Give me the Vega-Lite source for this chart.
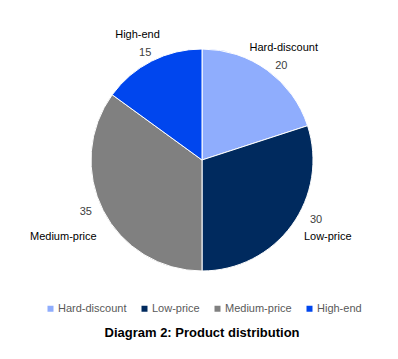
{
  "$schema": "https://vega.github.io/schema/vega-lite/v6.json",
  "width": 392,
  "height": 320,
  "autosize": {"type": "none"},
  "padding": {"left": 6, "top": 0, "right": 0, "bottom": 39},
  "background": "white",
  "config": {"view": {"stroke": null}, "font": "Liberation Sans"},
  "title": {
    "text": "Diagram 2: Product distribution",
    "orient": "bottom",
    "anchor": "middle",
    "offset": 7,
    "fontSize": 13,
    "fontWeight": "bold",
    "color": "#000000",
    "font": "Liberation Sans"
  },
  "data": {
    "values": [
      {"segment": "Hard-discount", "share": 20, "rank": 1},
      {"segment": "Low-price", "share": 30, "rank": 2},
      {"segment": "Medium-price", "share": 35, "rank": 3},
      {"segment": "High-end", "share": 15, "rank": 4}
    ]
  },
  "encoding": {
    "theta": {"field": "share", "type": "quantitative", "stack": true},
    "order": {"field": "rank", "type": "quantitative"}
  },
  "layer": [
    {
      "mark": {"type": "arc", "outerRadius": 111, "stroke": "white", "strokeWidth": 1},
      "encoding": {
        "color": {
          "field": "segment",
          "type": "nominal",
          "scale": {
            "domain": ["Hard-discount", "Low-price", "Medium-price", "High-end"],
            "range": ["#8FADFD", "#002A5E", "#808080", "#0046EE"]
          },
          "legend": {
            "orient": "none",
            "direction": "horizontal",
            "legendX": 39,
            "legendY": 303,
            "title": null,
            "symbolType": "square",
            "symbolSize": 36,
            "symbolStrokeWidth": 0,
            "labelFontSize": 11,
            "labelColor": "#595959",
            "labelFont": "Liberation Sans",
            "labelOffset": 2,
            "columnPadding": 12
          }
        }
      }
    },
    {
      "mark": {"type": "text", "radius": 123, "dx": 7, "dy": 6, "fontSize": 11, "color": "#404040"},
      "encoding": {"text": {"condition": {"test": "datum.segment === 'Hard-discount'", "field": "share", "type": "quantitative"}, "value": ""}}
    },
    {
      "mark": {"type": "text", "radius": 125, "dx": 13, "dy": -13, "fontSize": 11, "color": "#404040"},
      "encoding": {"text": {"condition": {"test": "datum.segment === 'Low-price'", "field": "share", "type": "quantitative"}, "value": ""}}
    },
    {
      "mark": {"type": "text", "radius": 127, "dx": -3, "dy": -6, "fontSize": 11, "color": "#404040"},
      "encoding": {"text": {"condition": {"test": "datum.segment === 'Medium-price'", "field": "share", "type": "quantitative"}, "value": ""}}
    },
    {
      "mark": {"type": "text", "radius": 123, "dx": -1, "dy": 3, "fontSize": 11, "color": "#404040"},
      "encoding": {"text": {"condition": {"test": "datum.segment === 'High-end'", "field": "share", "type": "quantitative"}, "value": ""}}
    },
    {
      "mark": {"type": "text", "radius": 139, "fontSize": 11, "color": "#000000"},
      "encoding": {"text": {"condition": {"test": "datum.segment === 'Hard-discount'", "field": "segment", "type": "nominal"}, "value": ""}}
    },
    {
      "mark": {"type": "text", "radius": 148, "dx": 6, "dy": -10, "fontSize": 11, "color": "#000000"},
      "encoding": {"text": {"condition": {"test": "datum.segment === 'Low-price'", "field": "segment", "type": "nominal"}, "value": ""}}
    },
    {
      "mark": {"type": "text", "radius": 159, "dx": 3, "dy": 5, "fontSize": 11, "color": "#000000"},
      "encoding": {"text": {"condition": {"test": "datum.segment === 'Medium-price'", "field": "segment", "type": "nominal"}, "value": ""}}
    },
    {
      "mark": {"type": "text", "radius": 142, "dy": 2, "fontSize": 11, "color": "#000000"},
      "encoding": {"text": {"condition": {"test": "datum.segment === 'High-end'", "field": "segment", "type": "nominal"}, "value": ""}}
    }
  ]
}
